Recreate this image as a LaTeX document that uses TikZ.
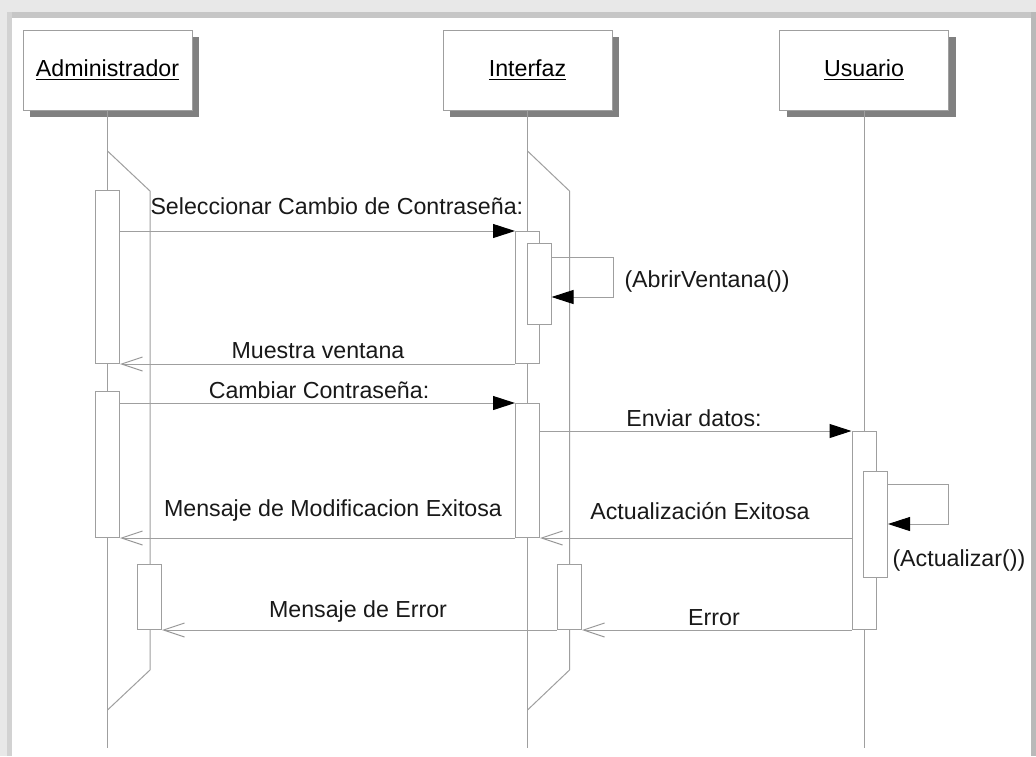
\documentclass[tikz,border=0pt]{standalone}
\usepackage{fontspec}
\setmainfont{Liberation Sans}
\usetikzlibrary{arrows.meta,shadows}

\begin{document}
\begin{tikzpicture}[x=0.5pt,y=-0.5pt,line width=0.5pt,
  head/.style={draw=gray!75,fill=white,minimum width=84.5pt,minimum height=40pt,inner sep=0pt,
    font=\fontsize{11.6}{14}\selectfont,
    drop shadow={shadow xshift=3.5pt,shadow yshift=-3.5pt,opacity=1,fill=black!50}},
  act/.style={draw=gray!75,fill=white,minimum width=12pt,anchor=north,inner sep=0pt},
  life/.style={draw=gray!75},
  call/.style={draw=gray!75,-{Triangle[length=11pt,width=7pt,color=black]}},
  ret/.style={draw=gray!75,-{Straight Barb[length=10.5pt,width=7pt,color=gray!80]}},
  lbl/.style={font=\fontsize{11.6}{14}\selectfont,text=black!90,inner sep=0pt}]
\useasboundingbox (0,0) rectangle (1036,756);
% window frame
\fill[gray!18] (0,0) rectangle (1036,756);
\fill[gray!45] (7,12) rectangle (1036,18);
\fill[gray!35] (7,12) rectangle (12,756);
\fill[gray!55] (1031,12) rectangle (1036,756);
\fill[white] (12,18) rectangle (1031,756);
% objects
\node[head] (adm) at (107.5,70) {\underline{Administrador}};
\node[head] (intf) at (527.5,70) {\underline{Interfaz}};
\node[head] (usr) at (864,70) {\underline{Usuario}};
\coordinate (admend) at (107.5,748);
\coordinate (intfend) at (527.5,748);
\coordinate (usrend) at (864,748);
\draw[life] (adm.south) -- (admend);
\draw[life] (intf.south) -- (intfend);
\draw[life] (usr.south) -- (usrend);
% lifetimes
\draw[life] (107.5,151) -- (150,191) -- (150,670) -- (107.5,710);
\draw[life] (527.5,151) -- (569.5,191) -- (569.5,670) -- (527.5,710);
% activations
\node[act,minimum height=86.5pt] (a1) at (107.5,190) {};
\node[act,minimum height=73pt] (a2) at (107.5,391) {};
\node[act,minimum height=32.5pt] (a3) at (149.5,564) {};
\node[act,minimum height=66pt] (i1) at (527.5,231) {};
\node[act,minimum height=40.5pt] (i1n) at (539,243) {};
\node[act,minimum height=67pt] (i2) at (527.5,403) {};
\node[act,minimum height=32.5pt] (i3) at (569.5,564) {};
\node[act,minimum height=99pt] (u1) at (864,431) {};
\node[act,minimum height=53pt] (u1n) at (875.5,471) {};
% messages
\draw[call] (a1.east |- i1.north) -- (i1.north west);
\draw[call] ([yshift=-7pt]i1n.north east) -- ++(62,0) -- ++(0,40) -- ++(-62,0);
\draw[ret] (i1.south west) -- (a1.east |- i1.south);
\draw[call] (a2.east |- i2.north) -- (i2.north west);
\draw[call] (i2.east |- u1.north) -- (u1.north west);
\draw[call] ([yshift=-6.5pt]u1n.north east) -- ++(60,0) -- ++(0,40) -- ++(-60,0);
\draw[ret] (u1.west |- i2.south) -- (i2.south east);
\draw[ret] (i2.south west) -- (a2.south east);
\draw[ret] (u1.south west) -- (i3.south east);
\draw[ret] (i3.south west) -- (a3.south east);
% labels
\node[lbl,anchor=west] (t1) at (150,206) {Seleccionar Cambio de Contraseña:};
\node[lbl,anchor=west] (t2) at (624,281) {(AbrirVentana())};
\node[lbl] (t3) at (318,351) {Muestra ventana};
\node[lbl] (t4) at (319,390) {Cambiar Contraseña:};
\node[lbl] (t5) at (694,418) {Enviar datos:};
\node[lbl,anchor=west] (t6) at (892,560) {(Actualizar())};
\node[lbl] (t7) at (700,511) {Actualización Exitosa};
\node[lbl] (t8) at (333,510) {Mensaje de Modificacion Exitosa};
\node[lbl] (t9) at (714,618) {Error};
\node[lbl] (t10) at (358,611) {Mensaje de Error};
\end{tikzpicture}
\end{document}
